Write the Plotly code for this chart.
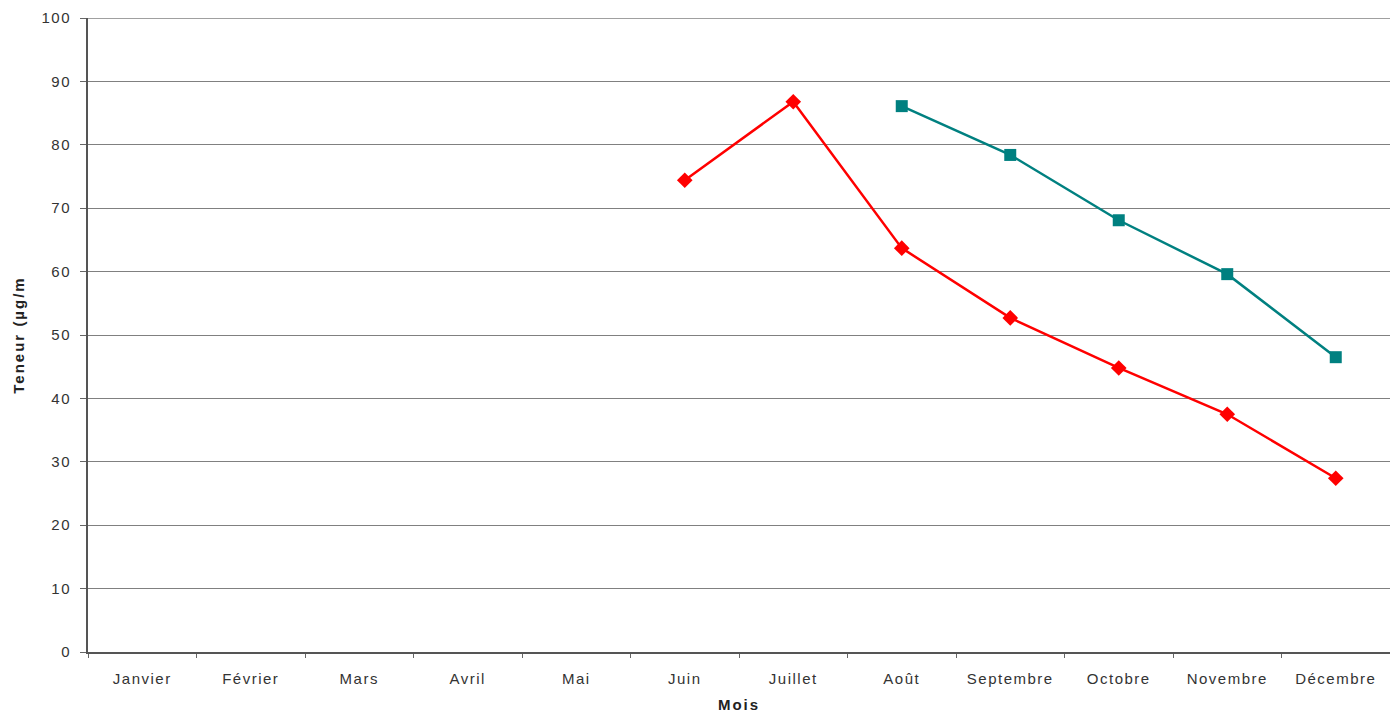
import plotly.graph_objects as go

mois = ["Janvier", "Février", "Mars", "Avril", "Mai", "Juin", "Juillet",
        "Août", "Septembre", "Octobre", "Novembre", "Décembre"]

# Série rouge : juin à décembre
mois_rouge = ["Juin", "Juillet", "Août", "Septembre", "Octobre", "Novembre", "Décembre"]
teneur_rouge = [74.4, 86.8, 63.7, 52.7, 44.8, 37.5, 27.4]

# Série verte : août à décembre
mois_vert = ["Août", "Septembre", "Octobre", "Novembre", "Décembre"]
teneur_vert = [86.1, 78.4, 68.1, 59.6, 46.5]

y_ticks = list(range(0, 101, 10))

fig = go.Figure()
fig.add_trace(go.Scatter(
    x=mois_rouge, y=teneur_rouge, mode="lines+markers",
    line=dict(color="#FF0000", width=2.5),
    marker=dict(symbol="diamond", size=12, color="#FF0000"),
    showlegend=False,
))
fig.add_trace(go.Scatter(
    x=mois_vert, y=teneur_vert, mode="lines+markers",
    line=dict(color="#008080", width=2.5),
    marker=dict(symbol="square", size=12, color="#008080"),
    showlegend=False,
))

font_family = "Liberation Sans, Arial, sans-serif"

fig.update_layout(
    width=1390, height=713,
    margin=dict(l=88, r=0, t=18, b=61),
    paper_bgcolor="white", plot_bgcolor="white",
    font=dict(family=font_family, size=13, color="#333333"),
    xaxis=dict(
        type="category", categoryorder="array", categoryarray=mois,
        range=[-0.5, 11.5],
        tickson="boundaries", ticks="outside", ticklen=4, tickcolor="#666666",
        ticklabelstandoff=12,
        showline=True, linecolor="#555555", linewidth=2,
        showgrid=False, zeroline=False,
        tickfont=dict(size=15, color="#333333"),
        title=dict(text="<b>Mois</b>", font=dict(size=15, color="#222222"), standoff=13),
    ),
    yaxis=dict(
        range=[0, 100], tickvals=y_ticks,
        ticks="outside", ticklen=6, tickcolor="#666666",
        ticklabelstandoff=6,
        showline=True, linecolor="#555555", linewidth=2,
        showgrid=True, gridcolor="#808080", gridwidth=1.4,
        zeroline=False,
        tickfont=dict(size=15, color="#333333"),
        title=dict(text="<b>Teneur (µg/m</b>", font=dict(size=15, color="#222222"), standoff=18),
    ),
)

# Ligne de grille supérieure à 100
fig.add_shape(type="line", xref="paper", yref="y", x0=0, x1=1, y0=100, y1=100,
              line=dict(color="#808080", width=1.4), layer="below")

# Espacement des lettres des libellés
letter_spacing_js = (
    "var s=document.createElement('style');"
    "s.innerHTML='.main-svg .xtick text, .main-svg .ytick text{letter-spacing:1.5px}"
    " .main-svg .g-xtitle text, .main-svg .g-ytitle text{letter-spacing:2px}';"
    "document.head.appendChild(s);"
)

fig.write_html("out.html", post_script=letter_spacing_js)
